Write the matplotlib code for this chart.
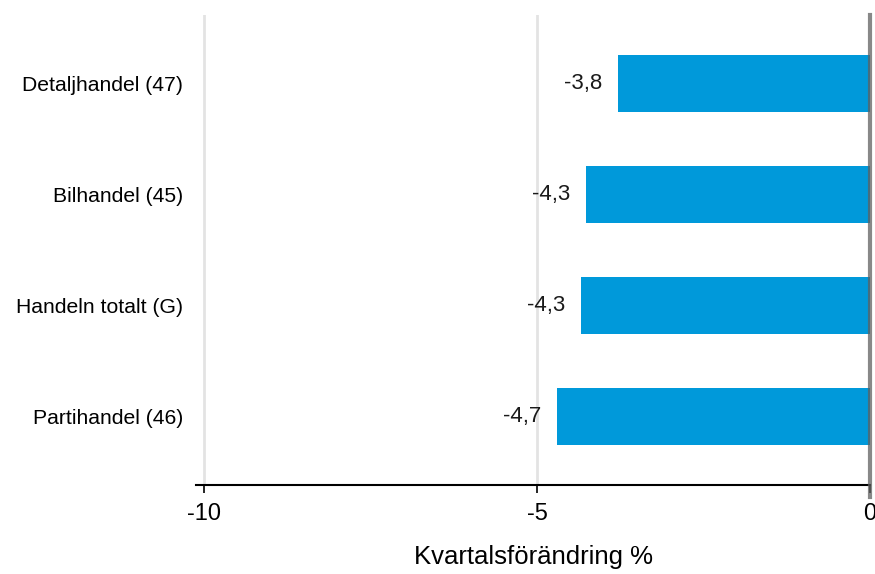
import matplotlib.pyplot as plt

plt.rcParams['font.family'] = ['Liberation Sans', 'DejaVu Sans']

categories = ["Partihandel (46)", "Handeln totalt (G)", "Bilhandel (45)", "Detaljhandel (47)"]
values = [-4.70, -4.34, -4.26, -3.78]
labels = ["-4,7", "-4,3", "-4,3", "-3,8"]
xticks = [-10, -5, 0]
xtick_labels = ["-10", "-5", "0"]

fig = plt.figure(figsize=(8.75, 5.74), dpi=100)
ax = fig.add_axes([0.224, 0.155, 0.7703, 0.819])

pos = list(range(len(categories)))
ax.barh(pos, values, height=0.51, color='#0099da', zorder=2)
for p, v, lab in zip(pos, values, labels):
    ax.text(v - 0.24, p, lab, ha='right', va='center', fontsize=16, color='#1a1a1a')

ax.set_xlim(-10.12, 0)
ax.set_ylim(-0.62, 3.62)
ax.set_xticks(xticks)
ax.set_xticklabels(xtick_labels, fontsize=17)
ax.set_yticks(pos)
ax.set_yticklabels(categories, fontsize=15.2)
ax.tick_params(axis='y', length=0, pad=9.5)
ax.tick_params(axis='x', length=6, width=1.2, pad=7)

for x in [-10, -5]:
    ax.axvline(x, color='#e3e3e3', lw=2, zorder=1)
ax.axvline(0, ymin=-0.025, ymax=1, color='#606060', alpha=0.75, lw=3, zorder=3, clip_on=False)

for s in ['top', 'right', 'left']:
    ax.spines[s].set_visible(False)
ax.spines['bottom'].set_linewidth(1.5)

ax.set_xlabel("Kvartalsförändring %", fontsize=18.5, labelpad=14)

fig.savefig("out.png", dpi=100)
